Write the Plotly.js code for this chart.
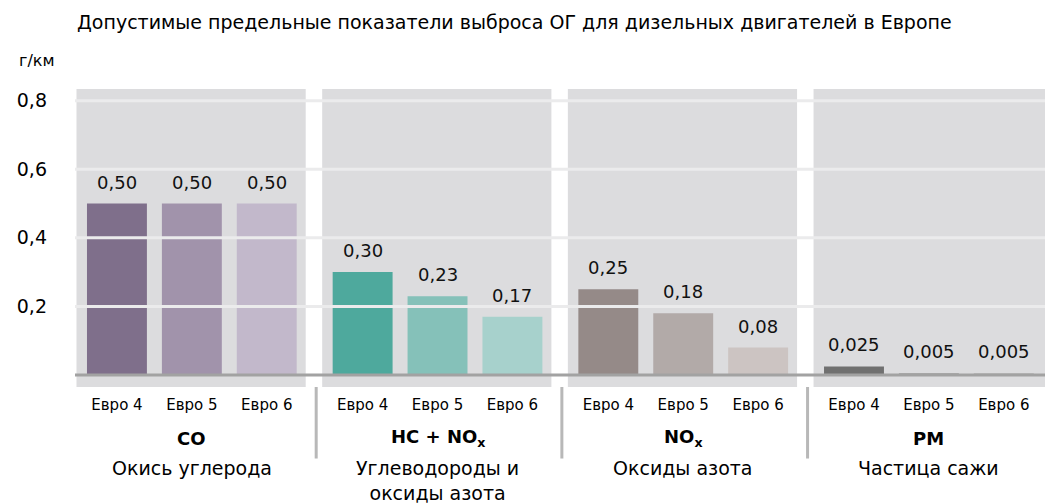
<!DOCTYPE html>
<html>
<head>
<meta charset="utf-8">
<script src="https://cdn.plot.ly/plotly-3.0.1.min.js"></script>
<style>html,body{margin:0;padding:0;background:#fff;}#chart{width:1045px;height:504px;}</style>
</head>
<body>
<div id="chart"></div>
<script>
// ---- data ----
const groupCodes = ['CO', 'HC + NO<sub>x</sub>', 'NO<sub>x</sub>', 'PM'];
const groupNames = ['Окись углерода', 'Углеводороды и<br>оксиды азота', 'Оксиды азота', 'Частица сажи'];
const standards = ['Евро 4', 'Евро 5', 'Евро 6'];
const euro4 = [0.50, 0.30, 0.25, 0.025];
const euro5 = [0.50, 0.23, 0.18, 0.005];
const euro6 = [0.50, 0.17, 0.08, 0.005];
const yTicks = [0.2, 0.4, 0.6, 0.8];
const titleText = 'Допустимые предельные показатели выброса ОГ для дизельных двигателей в Европе';
const unitText = 'г/км';

// ---- styling ----
const colors = [
  ['#7f6f8b', '#a193ab', '#c2b8cb'],
  ['#4ea99d', '#85c1b9', '#a7d1cc'],
  ['#958a88', '#b2aaa8', '#ccc4c2'],
  ['#707070', '#9a9a9a', '#b4b4b4']
];
const FONT = '"DejaVu Sans", "Open Sans", sans-serif';
const stride = 3.28;
const series = [euro4, euro5, euro6];

function xpos(g, i) { return g * stride + i; }
function fmt(v) {
  const d = (Math.round(v * 1000) % 10 !== 0) ? 3 : 2;
  return v.toFixed(d).replace('.', ',');
}

const traces = series.map((vals, i) => ({
  type: 'bar',
  x: vals.map((v, g) => xpos(g, i)),
  y: vals,
  width: 0.8,
  marker: { color: vals.map((v, g) => colors[g][i]), line: { width: 0 } },
  hoverinfo: 'skip',
  showlegend: false
}));

const shapes = [];
const annotations = [];
// panels
for (let g = 0; g < groupCodes.length; g++) {
  shapes.push({ type: 'rect', layer: 'below', xref: 'x', yref: 'paper',
    x0: xpos(g, 0) - 0.54, x1: g === groupCodes.length - 1 ? xpos(g, 2) + 2 : xpos(g, 2) + 0.52,
    y0: 0, y1: 1, fillcolor: '#dcdcde', line: { width: 0 } });
}
// gridlines above bars
yTicks.forEach(t => shapes.push({ type: 'line', layer: 'above', xref: 'paper', yref: 'y',
  x0: 0, x1: 1, y0: t, y1: t, line: { color: '#ebebec', width: 3 } }));
// baseline
shapes.push({ type: 'line', layer: 'above', xref: 'paper', yref: 'y', x0: 0, x1: 1, y0: 0, y1: 0,
  line: { color: '#a2a2a2', width: 3 } });
// dividers between groups (below plot)
for (let g = 1; g < groupCodes.length; g++) {
  const xm = (xpos(g - 1, 2) + xpos(g, 0)) / 2 + 0.02;
  shapes.push({ type: 'line', layer: 'above', xref: 'x', yref: 'paper', x0: xm, x1: xm,
    y0: 0, y1: -0.24, line: { color: '#b8b8b8', width: 3 } });
}
// value labels
series.forEach((vals, i) => vals.forEach((v, g) => annotations.push({
  xref: 'x', yref: 'y', x: xpos(g, i), y: v, text: fmt(v), showarrow: false,
  yanchor: 'bottom', yshift: 9, font: { family: FONT, size: 18, color: '#111' }
})));
// group labels
groupCodes.forEach((c, g) => {
  const xc = xpos(g, 1);
  annotations.push({ xref: 'x', yref: 'paper', x: xc, y: 0, yanchor: 'middle', yshift: -51,
    text: '<b>' + c + '</b>', showarrow: false, font: { family: FONT, size: 18, color: '#000' } });
  annotations.push({ xref: 'x', yref: 'paper', x: xc, y: 0, yanchor: 'top', yshift: -68,
    text: groupNames[g], showarrow: false, font: { family: FONT, size: 19, color: '#000' } });
});
// unit label
annotations.push({ xref: 'paper', yref: 'paper', x: 0, y: 1, xanchor: 'left', yanchor: 'middle',
  xshift: -58, yshift: 29, text: unitText, showarrow: false, font: { family: FONT, size: 16, color: '#000' } });

const tickvals = [], ticktext = [];
groupCodes.forEach((c, g) => standards.forEach((s, i) => { tickvals.push(xpos(g, i)); ticktext.push(s); }));

const layout = {
  width: 1045, height: 504,
  margin: { l: 75, r: 0, t: 89, b: 117 },
  paper_bgcolor: '#ffffff', plot_bgcolor: '#ffffff',
  separators: ', ',
  barmode: 'overlay',
  font: { family: FONT, color: '#000' },
  title: { text: titleText, x: 77 / 1045, xref: 'container', xanchor: 'left',
    y: 1 - 22 / 504, yref: 'container', yanchor: 'middle',
    font: { family: FONT, size: 19, color: '#000' } },
  xaxis: { range: [-0.56, 12.39], tickvals: tickvals, ticktext: ticktext, showgrid: false,
    zeroline: false, showline: false, ticks: '', ticklabelstandoff: 7,
    tickfont: { family: FONT, size: 15, color: '#000' }, fixedrange: true },
  yaxis: { range: [-0.035, 0.834], tickvals: yTicks, tickformat: '.1f', showgrid: false,
    zeroline: false, showline: false, ticks: '', ticklabelstandoff: 27,
    tickfont: { family: FONT, size: 19, color: '#000' }, fixedrange: true },
  shapes: shapes,
  annotations: annotations
};

Plotly.newPlot('chart', traces, layout, { staticPlot: true, displayModeBar: false });
</script>
</body>
</html>
